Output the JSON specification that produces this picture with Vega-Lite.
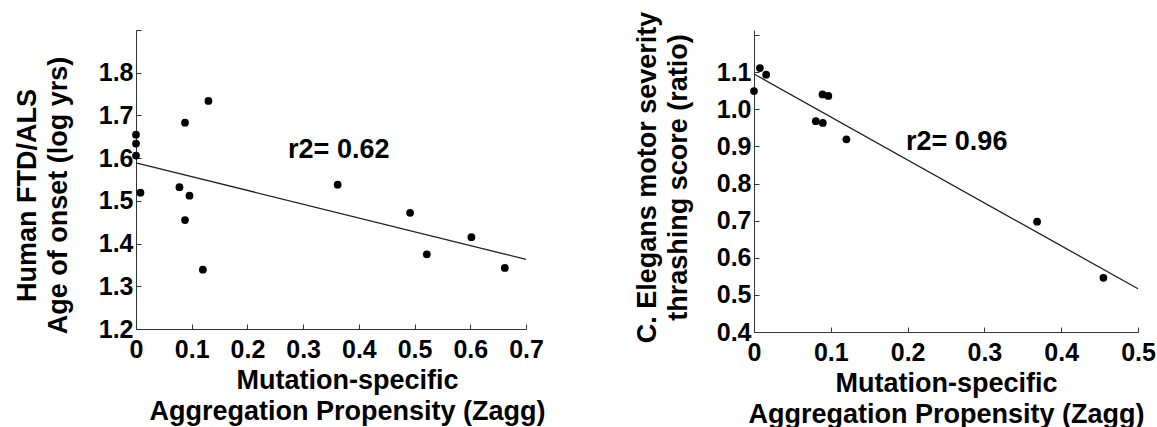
{
  "$schema": "https://vega.github.io/schema/vega-lite/v6.json",
  "background": "white",
  "padding": {"left": 13, "top": 11, "right": 2, "bottom": 2},
  "spacing": 228,
  "bounds": "flush",
  "config": {
    "view": {"stroke": null},
    "font": "Liberation Sans",
    "axis": {
      "grid": false,
      "domainColor": "#333333",
      "tickColor": "#333333",
      "labelFont": "Liberation Sans",
      "labelFontSize": 25,
      "labelFontWeight": "bold",
      "labelColor": "#000000",
      "titleFont": "Liberation Sans",
      "titleFontSize": 27,
      "titleFontWeight": "bold",
      "titleColor": "#000000",
      "titleLineHeight": 31,
      "tickSize": -5,
      "labelFlush": false,
      "labelOverlap": false,
      "labelBound": false
    }
  },
  "datasets": {
    "human": [
      {"zagg": 0.0, "score": 1.655},
      {"zagg": 0.0, "score": 1.634},
      {"zagg": 0.0, "score": 1.606},
      {"zagg": 0.008, "score": 1.519},
      {"zagg": 0.078, "score": 1.532},
      {"zagg": 0.096, "score": 1.512},
      {"zagg": 0.088, "score": 1.683},
      {"zagg": 0.088, "score": 1.455},
      {"zagg": 0.130, "score": 1.734},
      {"zagg": 0.120, "score": 1.339},
      {"zagg": 0.362, "score": 1.538},
      {"zagg": 0.492, "score": 1.472},
      {"zagg": 0.522, "score": 1.375},
      {"zagg": 0.602, "score": 1.415},
      {"zagg": 0.662, "score": 1.343}
    ],
    "humanFit": [
      {"zagg": 0.0, "score": 1.589},
      {"zagg": 0.7, "score": 1.363}
    ],
    "humanLabel": [
      {"zagg": 0.273, "score": 1.62, "label": "r2= 0.62"}
    ],
    "worm": [
      {"zagg": 0.0, "score": 1.049},
      {"zagg": 0.0077, "score": 1.111},
      {"zagg": 0.0158, "score": 1.093},
      {"zagg": 0.0805, "score": 0.968},
      {"zagg": 0.0896, "score": 0.963},
      {"zagg": 0.0892, "score": 1.040},
      {"zagg": 0.0968, "score": 1.036},
      {"zagg": 0.1203, "score": 0.919},
      {"zagg": 0.3686, "score": 0.697},
      {"zagg": 0.455, "score": 0.546}
    ],
    "wormFit": [
      {"zagg": 0.0, "score": 1.095},
      {"zagg": 0.5, "score": 0.5165}
    ],
    "wormLabel": [
      {"zagg": 0.198, "score": 0.912, "label": "r2= 0.96"}
    ]
  },
  "hconcat": [
    {
      "width": 390,
      "height": 299,
      "layer": [
        {
          "data": {"name": "human"},
          "mark": {"type": "circle", "size": 60, "color": "#000000", "opacity": 1},
          "encoding": {
            "x": {
              "field": "zagg", "type": "quantitative",
              "scale": {"domain": [0, 0.7], "nice": false, "zero": false},
              "axis": {
                "values": [0, 0.1, 0.2, 0.3, 0.4, 0.5, 0.6, 0.7],
                "tickCount": 20,
                "labelExpr": "datum.value == 0 ? '0' : format(datum.value, '.1f')",
                "labelPadding": 13,
                "title": ["Mutation-specific", "Aggregation Propensity (Zagg)"],
                "titleX": 211,
                "titlePadding": 5
              }
            },
            "y": {
              "field": "score", "type": "quantitative",
              "scale": {"domain": [1.2, 1.9], "nice": false, "zero": false},
              "axis": {
                "values": [1.2, 1.3, 1.4, 1.5, 1.6, 1.7, 1.8, 1.9],
                "tickCount": 20,
                "labelExpr": "datum.value > 1.85 ? '' : format(datum.value, '.1f')",
                "labelPadding": 8,
                "title": ["Human FTD/ALS", "Age of onset (log yrs)"],
                "titleY": 165,
                "titlePadding": 26
              }
            }
          }
        },
        {
          "data": {"name": "humanFit"},
          "mark": {"type": "line", "color": "#222222", "strokeWidth": 1.3},
          "encoding": {
            "x": {"field": "zagg", "type": "quantitative"},
            "y": {"field": "score", "type": "quantitative"}
          }
        },
        {
          "data": {"name": "humanLabel"},
          "mark": {"type": "text", "align": "left", "baseline": "middle", "fontSize": 27, "fontWeight": "bold", "font": "Liberation Sans", "color": "#000000"},
          "encoding": {
            "x": {"field": "zagg", "type": "quantitative"},
            "y": {"field": "score", "type": "quantitative"},
            "text": {"field": "label"}
          }
        }
      ]
    },
    {
      "width": 384,
      "height": 302,
      "layer": [
        {
          "data": {"name": "worm"},
          "mark": {"type": "circle", "size": 60, "color": "#000000", "opacity": 1},
          "encoding": {
            "x": {
              "field": "zagg", "type": "quantitative",
              "scale": {"domain": [0, 0.5], "nice": false, "zero": false},
              "axis": {
                "values": [0, 0.1, 0.2, 0.3, 0.4, 0.5],
                "tickCount": 20,
                "labelExpr": "datum.value == 0 ? '0' : format(datum.value, '.1f')",
                "labelPadding": 13,
                "title": ["Mutation-specific", "Aggregation Propensity (Zagg)"],
                "titlePadding": 5
              }
            },
            "y": {
              "field": "score", "type": "quantitative",
              "scale": {"domain": [0.4, 1.2135], "nice": false, "zero": false},
              "axis": {
                "values": [0.4, 0.5, 0.6, 0.7, 0.8, 0.9, 1.0, 1.1, 1.2],
                "tickCount": 20,
                "labelExpr": "datum.value > 1.15 ? '' : format(datum.value, '.1f')",
                "labelPadding": 8,
                "title": ["C. Elegans motor severity", "thrashing score (ratio)"],
                "titleY": 147,
                "titlePadding": 24
              }
            }
          }
        },
        {
          "data": {"name": "wormFit"},
          "mark": {"type": "line", "color": "#222222", "strokeWidth": 1.3},
          "encoding": {
            "x": {"field": "zagg", "type": "quantitative"},
            "y": {"field": "score", "type": "quantitative"}
          }
        },
        {
          "data": {"name": "wormLabel"},
          "mark": {"type": "text", "align": "left", "baseline": "middle", "fontSize": 27, "fontWeight": "bold", "font": "Liberation Sans", "color": "#000000"},
          "encoding": {
            "x": {"field": "zagg", "type": "quantitative"},
            "y": {"field": "score", "type": "quantitative"},
            "text": {"field": "label"}
          }
        }
      ]
    }
  ]
}
